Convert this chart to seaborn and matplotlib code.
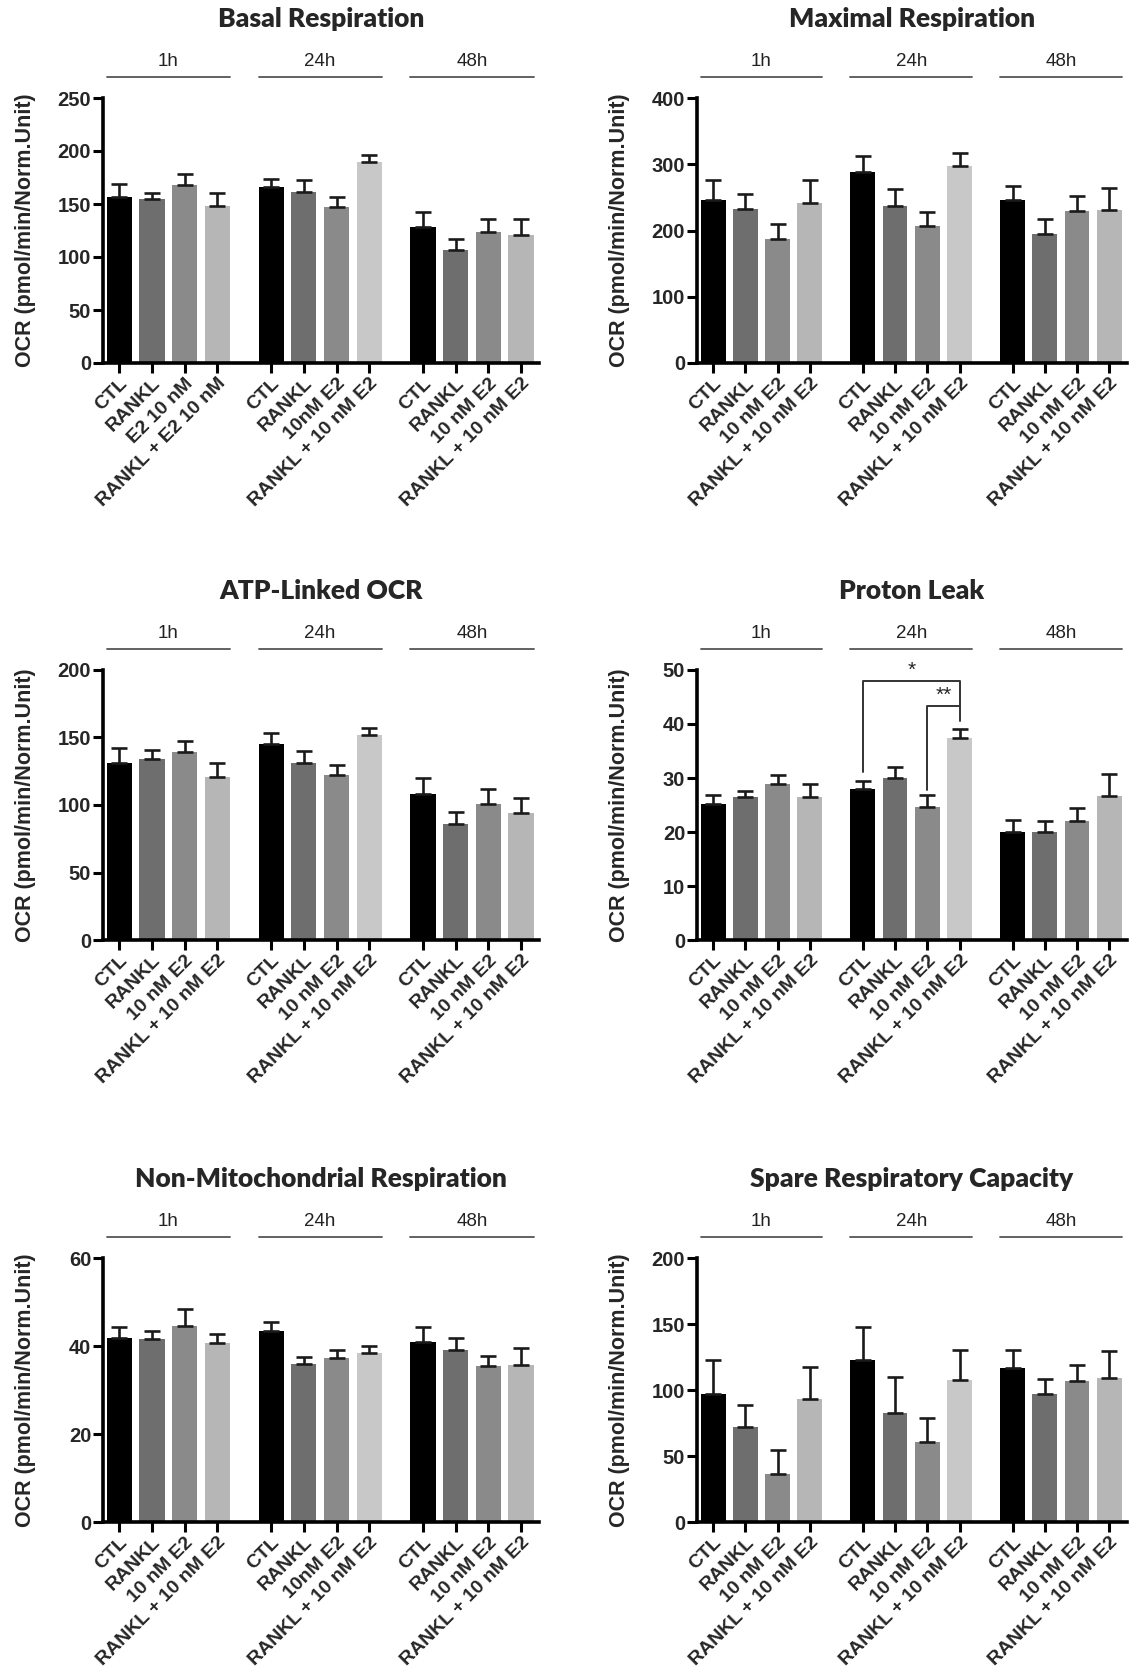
import matplotlib
matplotlib.use("Agg")
import matplotlib.pyplot as plt
import matplotlib.transforms as mtransforms
import seaborn as sns
import pandas as pd

# groups / treatments
times = ["1h", "24h", "48h"]
std_labels = ["CTL", "RANKL", "10 nM E2", "RANKL + 10 nM E2"]
basal_labels = (["CTL", "RANKL", "E2 10 nM", "RANKL + E2 10 nM"]
                + ["CTL", "RANKL", "10nM E2", "RANKL + 10 nM E2"]
                + std_labels)
nonmito_labels = std_labels + ["CTL", "RANKL", "10nM E2", "RANKL + 10 nM E2"] + std_labels
shades = ["black", "dark", "mid", "light",
          "black", "dark", "mid", "lighter",
          "black", "dark", "mid", "light"]
shade_colors = {"black": "#000000", "dark": "#6e6e6e", "mid": "#8a8a8a",
                "light": "#b6b6b6", "lighter": "#c8c8c8"}

# values (1h x4, 24h x4, 48h x4)
basal_mean = [156.5, 154.4, 168, 147.8, 165.7, 161.3, 147, 189.6, 128, 106.3, 123.3, 120.8]
basal_sem = [12.5, 5.8, 10, 12.5, 7.5, 11, 9.5, 6.5, 14.5, 10.5, 13, 15]
max_mean = [245.5, 232.5, 187.7, 241, 288.8, 236.5, 207.3, 296.9, 245.5, 195.2, 230, 230.4]
max_sem = [30.5, 22.5, 22.3, 35.7, 23.7, 26, 20.7, 20, 21.2, 22.7, 21.6, 33.2]
atp_mean = [131.4, 134, 139.2, 121.1, 145.4, 131, 122.4, 151.8, 108, 86, 101, 93.8]
atp_sem = [10.6, 7, 8, 10.1, 8.2, 9, 7.2, 4.9, 12, 8.6, 10.6, 11.6]
leak_mean = [25.1, 26.4, 28.8, 26.5, 28, 30, 24.7, 37.4, 20, 20, 22.1, 26.6]
leak_sem = [1.8, 1.2, 1.8, 2.3, 1.4, 2, 2.1, 1.6, 2.3, 2, 2.3, 4.2]
nonmito_mean = [41.9, 41.5, 44.6, 40.6, 43.3, 36, 37.3, 38.5, 40.9, 39.2, 35.4, 35.7]
nonmito_sem = [2.5, 1.8, 3.7, 2.1, 2.1, 1.6, 1.8, 1.6, 3.5, 2.7, 2.3, 3.8]
spare_mean = [96.7, 71.9, 36.7, 93, 122.9, 82.9, 60.3, 107.3, 117, 97, 107, 109.3]
spare_sem = [26.4, 16.8, 17.6, 24.3, 24.8, 26.6, 18.3, 23.1, 13, 11.5, 11.8, 20.6]

panels = [
    ("Basal Respiration", basal_mean, basal_sem, basal_labels, 250, 50),
    ("Maximal Respiration", max_mean, max_sem, std_labels * 3, 400, 100),
    ("ATP-Linked OCR", atp_mean, atp_sem, std_labels * 3, 200, 50),
    ("Proton Leak", leak_mean, leak_sem, std_labels * 3, 50, 10),
    ("Non-Mitochondrial Respiration", nonmito_mean, nonmito_sem, nonmito_labels, 60, 20),
    ("Spare Respiratory Capacity", spare_mean, spare_sem, std_labels * 3, 200, 50),
]

GAP = 0.65
BAR_W = 0.77
pos = [i + (i // 4) * GAP for i in range(12)]
SANS = ["Liberation Sans", "DejaVu Sans"]

sns.set_style("white")
plt.rcParams["font.family"] = SANS

W, H = 1135, 1671
fig = plt.figure(figsize=(W / 100, H / 100), dpi=100)

# axes boxes in pixels: left, right, top, bottom
cols = [(103, 539), (697, 1127)]
rows = [(98, 363), (670, 940), (1258, 1522)]

for k, (title, mean, sem, labels, ymax, ystep) in enumerate(panels):
    (l, r), (t, b) = cols[k % 2], rows[k // 2]
    ax = fig.add_axes([l / W, 1 - b / H, (r - l) / W, (b - t) / H])
    hpx = b - t
    df = pd.DataFrame({"pos": pos, "value": mean, "shade": shades})
    sns.barplot(data=df, x="pos", y="value", hue="shade", palette=shade_colors,
                native_scale=True, dodge=False, width=BAR_W, saturation=1,
                errorbar=None, legend=False, linewidth=0, ax=ax)
    ax.errorbar(pos, mean, yerr=[[0] * 12, sem], fmt="none", ecolor="#1a1a1a",
                elinewidth=1.9, capsize=6, capthick=1.9, zorder=3)

    ax.set_xlim(pos[0] - 0.5, pos[-1] + 0.55)
    ax.set_ylim(0, ymax)
    ax.set_yticks(range(0, ymax + 1, ystep))
    ax.set_xticks(pos)
    ax.set_xticklabels(labels, rotation=45, ha="right", rotation_mode="anchor",
                       fontsize=14, fontweight="bold", family=SANS)
    for tl in ax.get_yticklabels():
        tl.set_fontsize(14.5)
        tl.set_fontweight("bold")
        tl.set_family(SANS)
    ax.tick_params(axis="both", direction="out", length=7, width=2.2, color="black",
                   bottom=True, left=True, pad=1.5)
    sns.despine(ax=ax)
    for s in ["left", "bottom"]:
        ax.spines[s].set_linewidth(2.6)
        ax.spines[s].set_color("black")
    ax.set_xlabel("")
    ax.set_ylabel("OCR (pmol/min/Norm.Unit)", fontsize=15.5, fontweight="bold",
                  family=SANS)
    ax.yaxis.set_label_coords(-67 / (r - l), 0.5)

    # time group bars above the panel
    trans = mtransforms.blended_transform_factory(ax.transData, ax.transAxes)
    for g, tname in enumerate(times):
        x0 = pos[4 * g] - BAR_W / 2
        x1 = pos[4 * g + 3] + BAR_W / 2
        ax.plot([x0, x1], [1 + 21 / hpx] * 2, transform=trans, color="#555555",
                lw=1.3, clip_on=False)
        ax.text((x0 + x1) / 2, 1 + 37 / hpx, tname, transform=trans, ha="center",
                va="center", fontsize=13.5, color="#222222", family=SANS)

    ax.text(0.5, 1 + 79 / hpx, title, transform=ax.transAxes, ha="center",
            va="center", fontsize=19, fontweight="heavy", family="Lato")

    if title == "Proton Leak":
        ax.plot([pos[4], pos[4], pos[7], pos[7]], [31.1, 47.9, 47.9, 40.5],
                color="#333333", lw=1.4)
        ax.plot([pos[6], pos[6], pos[7]], [27.7, 43.3, 43.3], color="#333333", lw=1.4)
        ax.text((pos[4] + pos[7]) / 2, 48.2, "*", ha="center", va="bottom", fontsize=15)
        ax.text((pos[6] + pos[7]) / 2, 43.6, "**", ha="center", va="bottom", fontsize=15)

fig.savefig("out.png", dpi=100)
